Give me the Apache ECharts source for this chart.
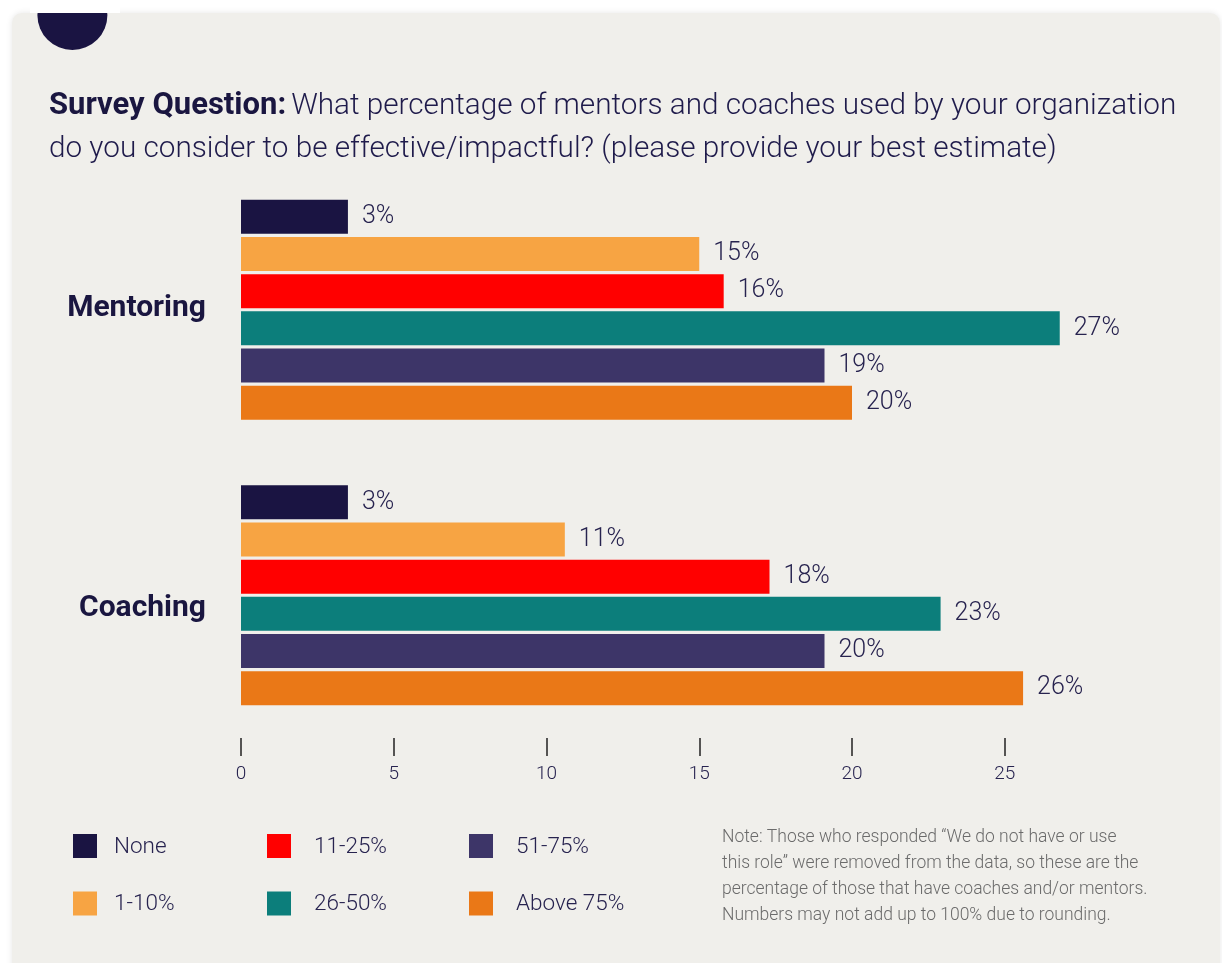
<!DOCTYPE html>
<html>
<head>
<meta charset="utf-8">
<script src="https://cdn.jsdelivr.net/npm/echarts@6/dist/echarts.min.js"></script>
<style>html,body{margin:0;padding:0;background:#fff;}#c{width:1222px;height:963px;}</style>
</head>
<body>
<div id="c"></div>
<script>
const categories = ['Mentoring', 'Coaching'];
const brackets = ['None', '1-10%', '11-25%', '26-50%', '51-75%', 'Above 75%'];
const mentoringValues = [3.5, 15.0, 15.8, 26.8, 19.1, 20.0];
const coachingValues = [3.5, 10.6, 17.3, 22.9, 19.1, 25.6];
const mentoringLabels = ['3%', '15%', '16%', '27%', '19%', '20%'];
const coachingLabels = ['3%', '11%', '18%', '23%', '20%', '26%'];
const tickValues = [0, 5, 10, 15, 20, 25];
const colors = ['#1a1442', '#f7a443', '#ff0000', '#0c7e7b', '#3d3568', '#ea7817'];
const noteText = 'Note: Those who responded \u201cWe do not have or use\nthis role\u201d were removed from the data, so these are the\npercentage of those that have coaches and/or mentors.\nNumbers may not add up to 100% due to rounding.';

const FONT = 'Roboto, "Noto Sans", sans-serif';
const TEXT = '#27234f';

const chart = echarts.init(document.getElementById('c'), null, {renderer: 'canvas'});

const series = brackets.map((b, i) => ({
  name: b,
  type: 'bar',
  barWidth: 34,
  barGap: '9.4%',
  itemStyle: {color: colors[i]},
  data: [mentoringValues[i], coachingValues[i]],
  label: {
    show: true,
    position: 'right',
    distance: 14,
    color: TEXT,
    fontFamily: FONT,
    fontWeight: 300,
    fontSize: 25,
    formatter: p => (p.dataIndex === 0 ? mentoringLabels : coachingLabels)[i]
  }
}));

function legendCol(left, names, gap) {
  return {
    orient: 'vertical',
    left: left,
    top: 834,
    padding: 0,
    itemWidth: 24,
    itemHeight: 24,
    itemGap: 33,
    icon: 'rect',
    selectedMode: false,
    data: names,
    formatter: n => '{t|' + n + '}',
    textStyle: {
      color: TEXT,
      fontFamily: FONT,
      fontWeight: 300,
      fontSize: 22.5,
      rich: {t: {padding: [2, 0, 0, gap], color: TEXT, fontFamily: FONT, fontWeight: 300, fontSize: 22.5}}
    }
  };
}

chart.setOption({
  backgroundColor: '#ffffff',
  animation: false,
  graphic: [
    {type: 'rect', z: -10, shape: {x: 12, y: 13, width: 1208, height: 1000, r: 10},
     style: {fill: '#f0efeb', shadowBlur: 6, shadowColor: 'rgba(0,0,0,0.10)'}},
    {type: 'circle', z: -9, shape: {cx: 72.4, cy: 15, r: 35}, style: {fill: '#1a1442'}},
    {type: 'rect', z: -8, shape: {x: 30, y: 0, width: 90, height: 13}, style: {fill: '#ffffff'}},
    {type: 'text', z: 5, left: 722, top: 825,
     style: {text: noteText, fill: '#6b6b6b', font: '300 17.5px ' + FONT, lineHeight: 26}}
  ],
  title: {
    left: 49,
    top: 85,
    padding: 0,
    text: '{b|Survey Question:} {n|What percentage of mentors and coaches used by your organization}\n{n|do you consider to be effective/impactful? (please provide your best estimate)}',
    textStyle: {
      lineHeight: 43,
      rich: {
        b: {fontFamily: FONT, fontWeight: 'bold', fontSize: 31, color: '#1a1640', lineHeight: 43},
        n: {fontFamily: FONT, fontWeight: 300, fontSize: 29.7, color: '#1f1b4b', lineHeight: 43}
      }
    }
  },
  legend: [
    legendCol(73, ['None', '1-10%'], 12),
    legendCol(267, ['11-25%', '26-50%'], 18),
    legendCol(469, ['51-75%', 'Above 75%'], 18)
  ],
  grid: {left: 241, top: 167, width: 30 * 30.55, height: 571, containLabel: false},
  xAxis: {
    type: 'value',
    min: 0,
    max: 30,
    interval: 5,
    splitLine: {show: false},
    axisLine: {show: false},
    axisTick: {show: true, length: 18, customValues: tickValues, lineStyle: {color: '#222', width: 1.5}},
    axisLabel: {
      customValues: tickValues,
      margin: 27,
      color: TEXT,
      fontFamily: FONT,
      fontWeight: 300,
      fontSize: 19
    }
  },
  yAxis: {
    type: 'category',
    inverse: true,
    data: categories,
    axisLine: {show: false},
    axisTick: {show: false},
    axisLabel: {
      margin: 35,
      formatter: v => v === 'Mentoring' ? '{m|' + v + '}' : '{c|' + v + '}',
      rich: {
        m: {fontFamily: FONT, fontWeight: 'bold', fontSize: 30, color: '#1a1640', padding: [0, 0, 2, 0]},
        c: {fontFamily: FONT, fontWeight: 'bold', fontSize: 30, color: '#1a1640', padding: [26, 0, 0, 0]}
      }
    }
  },
  series: series
});
</script>
</body>
</html>
